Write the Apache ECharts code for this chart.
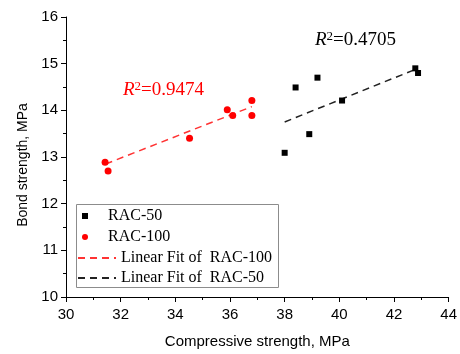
<!DOCTYPE html>
<html><head><meta charset="utf-8">
<script src="https://cdn.jsdelivr.net/npm/echarts@6/dist/echarts.min.js"></script>
<style>html,body{margin:0;padding:0;background:#fff}#c{width:460px;height:354px}</style>
</head><body><div id="c"></div>
<script>
// Data
const rac50 = [[38.0,13.09],[38.4,14.49],[38.9,13.49],[39.2,14.70],[40.1,14.21],[42.78,14.90],[42.88,14.80]];
const rac100 = [[31.43,12.89],[31.54,12.70],[34.52,13.40],[35.90,14.01],[36.10,13.89],[36.80,14.21],[36.80,13.89]];
const fit100 = [[31.45,12.85],[36.8,14.08]];
const fit50 = [[38.0,13.75],[42.75,14.87]];
const r2Red = '0.9474';
const r2Black = '0.4705';
const xTicks = {min:30, max:44, interval:2};
const yTicks = {min:10, max:16, interval:1};

const chart = echarts.init(document.getElementById('c'), null, {renderer:'canvas'});
const sans = 'Liberation Sans, Arial, sans-serif';
const serif = 'Liberation Serif, Times New Roman, serif';
const sqIcon = 'path://M0,0H10V10H0Z';
const axisCommon = {
  axisLine:{show:true, lineStyle:{color:'#000', width:1}},
  axisTick:{show:true, length:5, lineStyle:{color:'#000'}},
  minorTick:{show:true, splitNumber:2, length:3, lineStyle:{color:'#000'}},
  splitLine:{show:false},
  axisLabel:{color:'#000', fontFamily:sans, fontSize:15},
  nameTextStyle:{color:'#000', fontFamily:sans, fontSize:15}
};
chart.setOption({
  animation:false,
  grid:{left:66, right:10, top:17, bottom:57, containLabel:false},
  xAxis: Object.assign({}, axisCommon, {type:'value', min:xTicks.min, max:xTicks.max, interval:xTicks.interval,
    name:'Compressive strength, MPa', nameLocation:'middle', nameGap:37,
    axisLabel:Object.assign({}, axisCommon.axisLabel, {margin:10})}),
  yAxis: Object.assign({}, axisCommon, {type:'value', min:yTicks.min, max:yTicks.max, interval:yTicks.interval,
    name:'Bond strength, MPa', nameLocation:'middle', nameGap:36,
    nameTextStyle:Object.assign({}, axisCommon.nameTextStyle, {fontSize:14, padding:[0,0,0,-16]}),
    axisLabel:Object.assign({}, axisCommon.axisLabel, {margin:8})}),
  legend:[
    {orient:'vertical', left:82, top:208, padding:0, itemWidth:36, itemHeight:6, itemGap:5,
     textStyle:{fontFamily:serif, fontSize:16, color:'#000'},
     data:[{name:'RAC-50', icon:sqIcon, itemStyle:{color:'#000', opacity:1}},{name:'RAC-100', icon:'circle', itemStyle:{color:'#ff0000', opacity:1}}]},
    {orient:'vertical', left:77, top:250, padding:0, itemWidth:38, itemHeight:6, itemGap:4,
     textStyle:{fontFamily:serif, fontSize:16, color:'#000'},
     data:[{name:'Linear Fit of  RAC-100', itemStyle:{opacity:0}},{name:'Linear Fit of  RAC-50', itemStyle:{opacity:0}}]}
  ],
  graphic:[
    {type:'rect', shape:{x:76.5, y:204.5, width:202, height:83}, style:{fill:'none', stroke:'#8c8c8c', lineWidth:1}, z:100},
    {type:'text', x:123, y:90, style:{text:'{i|R}{s|2}=' + r2Red, fill:'#ff0000', font:'19px ' + serif, verticalAlign:'middle',
      rich:{i:{fontStyle:'italic', fontFamily:serif, fontSize:19, color:'#ff0000'}, s:{fontFamily:serif, fontSize:13, verticalAlign:'top', color:'#ff0000'}}}},
    {type:'text', x:315, y:40, style:{text:'{i|R}{s|2}=' + r2Black, fill:'#000', font:'19px ' + serif, verticalAlign:'middle',
      rich:{i:{fontStyle:'italic', fontFamily:serif, fontSize:19, color:'#000'}, s:{fontFamily:serif, fontSize:13, verticalAlign:'top', color:'#000'}}}}
  ],
  series:[
    {name:'RAC-50', type:'scatter', symbol:'rect', symbolSize:6, itemStyle:{color:'#000', opacity:1}, data:rac50, z:5},
    {name:'RAC-100', type:'scatter', symbol:'circle', symbolSize:7, itemStyle:{color:'#ff0000', opacity:1}, data:rac100, z:5},
    {name:'Linear Fit of  RAC-100', type:'line', symbol:'none', data:fit100,
     lineStyle:{color:'#ff3333', width:1.5, type:[7,5]}, itemStyle:{color:'#ff3333'}},
    {name:'Linear Fit of  RAC-50', type:'line', symbol:'none', data:fit50,
     lineStyle:{color:'#222', width:1.5, type:[7,5]}, itemStyle:{color:'#222'}}
  ]
});
</script></body></html>
